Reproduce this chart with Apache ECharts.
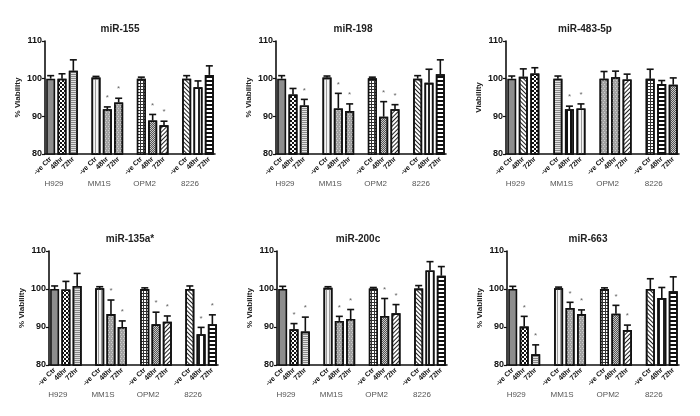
<!DOCTYPE html>
<html>
<head>
<meta charset="utf-8">
<script src="https://cdn.jsdelivr.net/npm/echarts@6/dist/echarts.min.js"></script>
</head>
<body style="margin:0;background:#fff">
<div id="container" style="width:700px;height:416px;"></div>
<script>
// ---- data ----
var groups = ['H929', 'MM1S', 'OPM2', '8226'];
var conditions = ['-ve Ctr', '48hr', '72hr'];
var yTicks = [80, 90, 100, 110];
var titles = ['miR-155', 'miR-198', 'miR-483-5p', 'miR-135a*', 'miR-200c', 'miR-663'];
var yNames = ['% Viability', '% Viability', 'Viability', '% Viability', '% Viability', '% Viability'];

// order: H929 (ctr,48,72), MM1S, OPM2, 8226
var mir155 = [100, 100, 102.1, 100.3, 91.9, 93.7, 100, 88.9, 87.6, 100, 97.7, 101];
var mir155Err = [0.8, 1.3, 2.9, 0.3, 0.6, 1.1, 0.4, 1.6, 1.1, 0.8, 1.7, 2.4];
var mir155Sig = [0, 0, 0, 0, 1, 1, 0, 1, 1, 0, 0, 0];

var mir198 = [100, 95.8, 92.9, 100.3, 92.1, 91.4, 100.1, 89.9, 91.9, 100, 98.9, 101.2];
var mir198Err = [0.8, 1.6, 1.6, 0.4, 4.0, 1.9, 0.3, 4.0, 1.2, 0.8, 3.6, 3.8];
var mir198Sig = [0, 0, 1, 0, 1, 1, 0, 1, 1, 0, 0, 0];

var mir483 = [100, 100.5, 101.4, 100, 91.9, 92.1, 100, 100.4, 99.8, 100, 98.6, 98.4];
var mir483Err = [0.7, 2.1, 1.5, 0.7, 0.8, 1.2, 1.9, 1.6, 1.4, 2.5, 0.9, 1.8];
var mir483Sig = [0, 0, 0, 0, 1, 1, 0, 0, 0, 0, 0, 0];

var mir135 = [100, 99.9, 100.8, 100.2, 93.4, 90, 100, 90.7, 91.4, 100, 88.1, 90.7];
var mir135Err = [0.8, 2.1, 3.3, 0.4, 3.7, 1.6, 0.3, 3.2, 1.5, 0.8, 1.8, 2.5];
var mir135Sig = [0, 0, 0, 0, 1, 1, 0, 1, 1, 0, 1, 1];

var mir200 = [100, 89.4, 88.8, 100.3, 91.6, 92.1, 100.1, 92.9, 93.6, 100.1, 104.9, 103.5];
var mir200Err = [0.7, 1.5, 3.8, 0.3, 1.2, 2.5, 0.3, 4.6, 2.3, 0.8, 2.3, 2.4];
var mir200Sig = [0, 1, 1, 0, 1, 1, 0, 1, 1, 0, 0, 0];

var mir663 = [100, 90.1, 82.8, 100.2, 95, 93.4, 100, 93.5, 89.2, 100, 97.6, 99.4];
var mir663Err = [0.7, 2.7, 2.5, 0.3, 1.5, 1.1, 0.3, 2.2, 1.3, 2.7, 2.8, 3.8];
var mir663Sig = [0, 1, 1, 0, 1, 1, 0, 1, 1, 0, 0, 0];

var panelValues = [mir155, mir198, mir483, mir135, mir200, mir663];
var panelErrors = [mir155Err, mir198Err, mir483Err, mir135Err, mir200Err, mir663Err];
var panelSig = [mir155Sig, mir198Sig, mir483Sig, mir135Sig, mir200Sig, mir663Sig];

// ---- styles ----
var FONT = 'Liberation Sans';
function lineFill(bg, fg, w, gap, rot) {
    return { color: bg, decal: { symbol: 'rect', symbolSize: 1, color: fg,
        dashArrayX: [1, 0], dashArrayY: [w, gap], rotation: rot || 0 } };
}
var patterns = {
    gray: { color: '#8d8d8d' },
    check: { color: '#fff', decal: { symbol: 'rect', symbolSize: 1, color: '#111',
        dashArrayX: [[2, 2], [0, 2, 2, 0]], dashArrayY: [2, 0] } },
    finecheck: { color: '#c8c8c8', decal: { symbol: 'rect', symbolSize: 1, color: '#555',
        dashArrayX: [[1, 1], [0, 1, 1, 0]], dashArrayY: [1, 0] } },
    hgray: lineFill('#e2e2e2', '#8a8a8a', 1, 1),
    vwhite: lineFill('#f4f4f4', '#9a9a9a', 1, 1.5, Math.PI / 2),
    vblack: lineFill('#fff', '#111', 2, 1.5, Math.PI / 2),
    vbold: lineFill('#fff', '#222', 1.5, 2.5, Math.PI / 2),
    hbold: lineFill('#fff', '#111', 1.5, 1.5),
    diagB: lineFill('#fff', '#222', 1, 1.8, -Math.PI / 4),
    diagF: lineFill('#fff', '#222', 1, 1.8, Math.PI / 4),
    dots: { color: '#a2a2a2', decal: { symbol: 'rect', symbolSize: 1, color: '#cdcdcd',
        dashArrayX: [[1, 2], [0, 1, 1, 1]], dashArrayY: [1, 1] } },
    grid: { color: '#333', decal: { symbol: 'rect', symbolSize: 1, color: '#fff',
        dashArrayX: [2, 1], dashArrayY: [2, 1] } }
};
var stdSet = ['gray', 'check', 'hgray', 'vwhite', 'dots', 'dots', 'grid', 'finecheck', 'diagB', 'diagF', 'vbold', 'hbold'];
var altSet = ['gray', 'diagF', 'check', 'hgray', 'vblack', 'vwhite', 'dots', 'dots', 'diagB', 'grid', 'hbold', 'finecheck'];
var panelPatterns = [stdSet, stdSet, altSet, stdSet, stdSet, stdSet];

var layouts = [
    { left: 45, top: 41, width: 170, height: 113, tx: 115, ty: 19 },
    { left: 276, top: 41, width: 170, height: 113, tx: 348, ty: 19 },
    { left: 506, top: 41, width: 173, height: 113, tx: 580, ty: 19 },
    { left: 49, top: 251, width: 169, height: 114, tx: 125, ty: 229 },
    { left: 277, top: 251, width: 170, height: 114, tx: 353, ty: 229 },
    { left: 507, top: 251, width: 172, height: 114, tx: 583, ty: 229 }
];

// category slots: 3 bars per group, a blank slot between groups
var slots = [], groupSlots = [], slotOf = [];
groups.forEach(function (g, gi) {
    conditions.forEach(function (c, ci) {
        slotOf.push(slots.length);
        slots.push(c);
        groupSlots.push(ci === 1 ? g : '');
    });
    if (gi < groups.length - 1) { slots.push(''); groupSlots.push(''); }
});

function renderErr(params, api) {
    var x = api.value(0), v = api.value(1), e = api.value(2), s = api.value(3);
    var base = api.coord([x, v]);
    var tip = api.coord([x, v + e]);
    var half = 3.5;
    var st = { stroke: '#111', lineWidth: 1.6 };
    var children = [
        { type: 'line', shape: { x1: base[0], y1: base[1], x2: tip[0], y2: tip[1] }, style: st },
        { type: 'line', shape: { x1: tip[0] - half, y1: tip[1], x2: tip[0] + half, y2: tip[1] }, style: st }
    ];
    if (s) {
        children.push({ type: 'text', style: { text: '*', x: tip[0], y: tip[1] - 9,
            align: 'center', verticalAlign: 'middle', fontSize: 8, fill: '#666', fontFamily: FONT } });
    }
    return { type: 'group', children: children };
}

var option = { animation: false, backgroundColor: '#fff', textStyle: { fontFamily: FONT },
    title: [], grid: [], xAxis: [], yAxis: [], series: [] };

layouts.forEach(function (L, p) {
    option.title.push({ text: titles[p], left: L.tx, top: L.ty, textAlign: 'center',
        textStyle: { fontSize: 10, fontWeight: 'bold', color: '#222', fontFamily: FONT } });
    option.grid.push({ left: L.left, top: L.top, width: L.width, height: L.height });
    option.xAxis.push({
        type: 'category', gridIndex: p, data: slots,
        axisLine: { lineStyle: { color: '#111', width: 1.6 } },
        axisTick: { alignWithLabel: true, length: 3, lineStyle: { color: '#111', width: 1.2 },
            interval: function (i, v) { return v !== ''; } },
        axisLabel: { interval: 0, rotate: 45, fontSize: 7, fontWeight: 'bold', color: '#111', margin: 4 }
    });
    option.xAxis.push({
        type: 'category', gridIndex: p, position: 'bottom', data: groupSlots,
        axisLine: { show: false }, axisTick: { show: false },
        axisLabel: { interval: 0, fontSize: 8, color: '#555', margin: 26, padding: [0, 16, 0, 0] }
    });
    option.yAxis.push({
        type: 'value', gridIndex: p, min: yTicks[0], max: yTicks[yTicks.length - 1], interval: 10,
        name: yNames[p], nameLocation: 'middle', nameGap: 23,
        nameTextStyle: { fontSize: 8, fontWeight: 'bold', color: '#222' },
        axisLine: { show: true, lineStyle: { color: '#111', width: 1.6 } },
        axisTick: { show: true, length: 3, lineStyle: { color: '#111', width: 1.2 } },
        axisLabel: { fontSize: 9, fontWeight: 'bold', color: '#111', margin: 3 },
        splitLine: { show: false }
    });
    var barData = slots.map(function () { return '-'; });
    var errData = [];
    panelValues[p].forEach(function (v, i) {
        var pat = patterns[panelPatterns[p][i]];
        barData[slotOf[i]] = { value: v, itemStyle: { color: pat.color, decal: pat.decal || null,
            borderColor: '#111', borderWidth: 1.6 } };
        errData.push([slotOf[i], v, panelErrors[p][i], panelSig[p][i]]);
    });
    option.series.push({ type: 'bar', xAxisIndex: 2 * p, yAxisIndex: p, barWidth: 9, data: barData });
    option.series.push({ type: 'custom', xAxisIndex: 2 * p, yAxisIndex: p, renderItem: renderErr,
        data: errData, z: 5, encode: { x: 0, y: 1 } });
});

var myChart = echarts.init(document.getElementById('container'));
myChart.setOption(option);
</script>
</body>
</html>
